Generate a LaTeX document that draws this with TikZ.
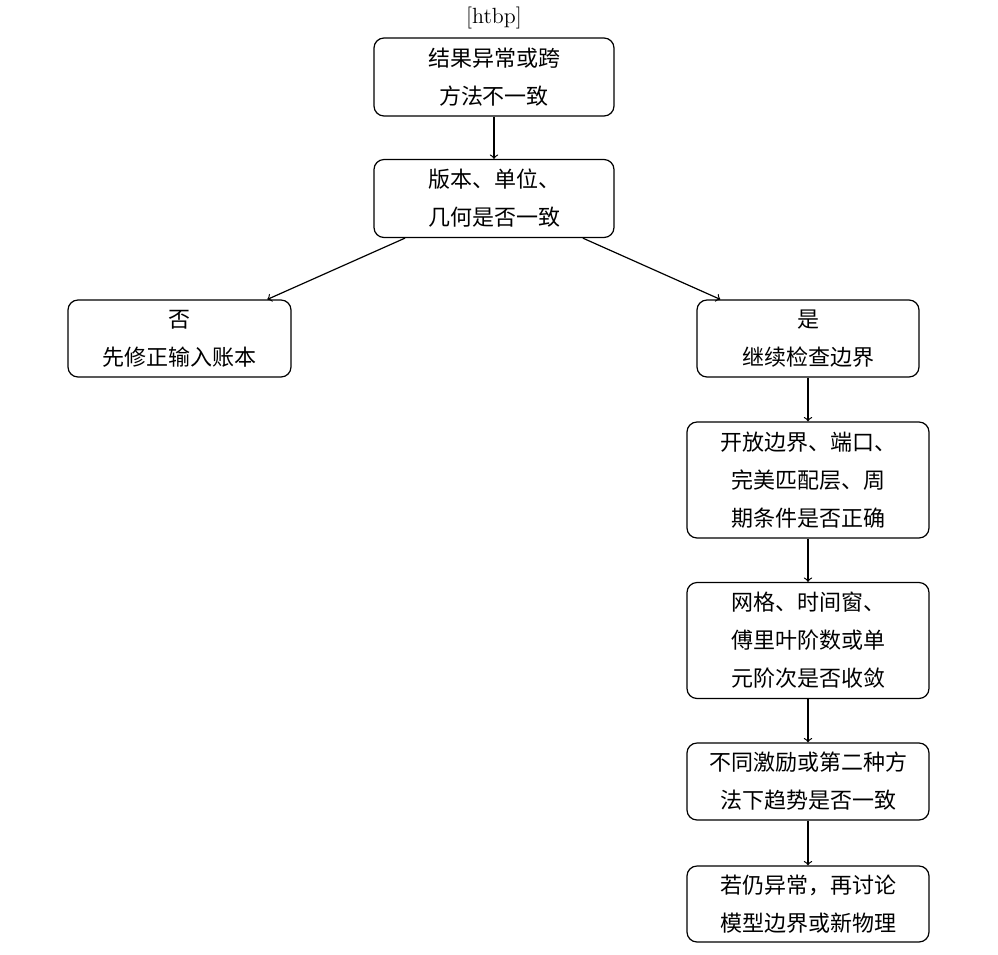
\documentclass[tikz,border=0pt]{standalone}
\usepackage{fontspec}
\newfontfamily\cjk{Noto Sans CJK SC}
\usetikzlibrary{positioning}
\tikzset{step box/.style={draw, rounded corners=5pt, align=center, font=\cjk\fontsize{11}{19}\selectfont, inner sep=0pt}}
\tikzset{wide box/.style={step box, minimum width=120pt, minimum height=39pt}}
\tikzset{tall box/.style={step box, minimum width=121pt, minimum height=58pt}}
\begin{document}
\begin{tikzpicture}[->, x=0.5pt, y=-0.5pt, semithick]
	\useasboundingbox (0,0) rectangle (998,955);
	\node[font=\fontsize{11}{13}\selectfont] at (494,18) (tag) {[htbp]};
	\node[wide box] at (494,77) (start) {结果异常或跨\\方法不一致};
	\node[wide box] at (494,198.5) (input) {版本、单位、\\几何是否一致};
	\node[step box, minimum width=111.5pt, minimum height=38.5pt] at (179.5,338.5) (fix) {否\\先修正输入账本};
	\node[step box, minimum width=111pt, minimum height=38.5pt] at (808,338.5) (cont) {是\\继续检查边界};
	\node[tall box] at (808,480) (bound) {开放边界、端口、\\完美匹配层、周\\期条件是否正确};
	\node[tall box] at (808,640.5) (conv) {网格、时间窗、\\傅里叶阶数或单\\元阶次是否收敛};
	\node[step box, minimum width=121pt, minimum height=38.5pt] at (808,781.5) (trend) {不同激励或第二种方\\法下趋势是否一致};
	\node[step box, minimum width=121pt, minimum height=38pt] at (808,904) (model) {若仍异常，再讨论\\模型边界或新物理};
	\draw (start) -- (input);
	\draw (input) -- (fix);
	\draw (input) -- (cont);
	\draw (cont) -- (bound);
	\draw (bound) -- (conv);
	\draw (conv) -- (trend);
	\draw (trend) -- (model);
\end{tikzpicture}
\end{document}
